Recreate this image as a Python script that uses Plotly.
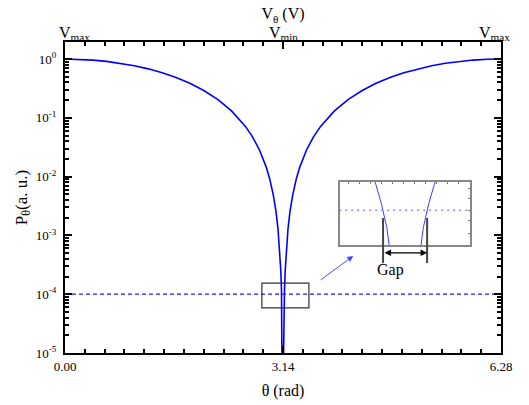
import numpy as np
import plotly.graph_objects as go

# Main curve (theta in rad, P in a.u.)
theta = [0.0, 0.2, 0.4, 0.6, 0.8, 1.0, 1.2, 1.4, 1.6, 1.8, 2.0, 2.2, 2.4, 2.6, 2.7, 2.8,
         2.9, 2.95, 3.0, 3.04, 3.07, 3.09, 3.10, 3.11, 3.12, 3.125, 3.13, 3.134, 3.137,
         3.1416,
         3.1462, 3.1492, 3.1532, 3.1582, 3.1632, 3.1732, 3.1832, 3.1932, 3.2132, 3.2432,
         3.2832, 3.3332, 3.3832, 3.4832, 3.5832, 3.6832, 3.8832, 4.0832, 4.2832, 4.4832,
         4.6832, 4.8832, 5.0832, 5.2832, 5.4832, 5.6832, 5.8832, 6.0832, 6.2832]
power = [1.0, 0.9900, 0.9605, 0.9127, 0.8484, 0.7702, 0.6812, 0.5850, 0.4854, 0.3864,
         0.2919, 0.2058, 0.1313, 0.07156, 0.04797, 0.02889, 0.01452, 0.009149, 0.005004,
         0.002579, 0.001281, 6.65e-4, 4.32e-4, 2.50e-4, 1.165e-4, 6.88e-5, 3.36e-5,
         1.44e-5, 5.27e-6,
         1e-8,
         5.27e-6, 1.44e-5, 3.36e-5, 6.88e-5, 1.165e-4, 2.50e-4, 4.32e-4, 6.65e-4,
         0.001281, 0.002579, 0.005004, 0.009149, 0.01452, 0.02889, 0.04797, 0.07156,
         0.1313, 0.2058, 0.2919, 0.3864, 0.4854, 0.5850, 0.6812, 0.7702, 0.8484, 0.9127,
         0.9605, 0.9900, 1.0]

# Zoomed region around the minimum (inset)
theta_zoom_left = [3.105, 3.110, 3.115, 3.120, 3.125, 3.130, 3.135]
power_zoom_left = [3.34e-4, 2.50e-4, 1.77e-4, 1.165e-4, 6.88e-5, 3.36e-5, 1.09e-5]
theta_zoom_right = [3.1782, 3.1732, 3.1682, 3.1632, 3.1582, 3.1532, 3.1482]
power_zoom_right = [3.34e-4, 2.50e-4, 1.77e-4, 1.165e-4, 6.88e-5, 3.36e-5, 1.09e-5]

threshold = 1e-4
gap_edges = [3.1216, 3.1616]

x_ticks = [0.0, 3.1416, 6.2832]
x_labels = ["0.00", "3.14", "6.28"]
top_labels = ["V<sub>max</sub>", "V<sub>min</sub>", "V<sub>max</sub>"]
y_exponents = [-5, -4, -3, -2, -1, 0]

FONT = "Liberation Serif, Times New Roman, serif"
BLUE = "#0000ff"

fig = go.Figure()

fig.add_trace(go.Scatter(x=theta, y=power, mode="lines",
                         line=dict(color=BLUE, width=1.6), showlegend=False))
fig.add_trace(go.Scatter(x=[x_ticks[0], x_ticks[-1]], y=[threshold, threshold], mode="lines",
                         line=dict(color="#1a1aff", width=1.2, dash="4px,3px"), showlegend=False))

# inset traces
fig.add_trace(go.Scatter(x=theta_zoom_left, y=power_zoom_left, xaxis="x3", yaxis="y3",
                         mode="lines", line=dict(color="#3a3aff", width=1), showlegend=False))
fig.add_trace(go.Scatter(x=theta_zoom_right, y=power_zoom_right, xaxis="x3", yaxis="y3",
                         mode="lines", line=dict(color="#3a3aff", width=1), showlegend=False))
fig.add_trace(go.Scatter(x=[3.0, 3.3], y=[threshold, threshold], xaxis="x3", yaxis="y3",
                         mode="lines", line=dict(color="#8a8aff", width=1.5, dash="2px,4px"),
                         showlegend=False))

minor_x = [i * np.pi / 11 for i in range(23)]
minor_y = [k * 10.0 ** e for e in range(-5, 1) for k in range(2, 10)]

# the page body has an 8px margin, so the figure is a bit smaller than the window
fig.update_layout(
    width=521, height=397,
    margin=dict(l=57, r=28, t=34, b=52, autoexpand=False),
    plot_bgcolor="white", paper_bgcolor="white",
    font=dict(family=FONT, size=13, color="black"),
    title=dict(text="V<sub>θ</sub> (V)", font=dict(size=16), x=0.5, xanchor="center",
               xref="paper", yref="container", y=1.0, yanchor="top", pad=dict(t=0, b=0)),
    xaxis=dict(
        automargin=False,
        range=[0, 2 * np.pi], tickmode="array", tickvals=x_ticks, ticktext=x_labels,
        ticks="inside", ticklen=7, tickwidth=2, tickcolor="black",
        showline=True, linecolor="black", linewidth=2, mirror="ticks",
        showgrid=False, zeroline=False,
        minor=dict(tickmode="array", tickvals=minor_x, ticks="inside", ticklen=4,
                   tickwidth=1.5, tickcolor="black", showgrid=False),
        title=dict(text="θ (rad)", font=dict(size=16), standoff=12),
        tickfont=dict(size=13),
    ),
    yaxis=dict(
        automargin=False,
        type="log", range=[-5, 0.29], tickmode="array",
        tickvals=[10.0 ** e for e in y_exponents],
        ticktext=[f"10<sup>{e}</sup>" for e in y_exponents],
        ticks="inside", ticklen=7, tickwidth=2, tickcolor="black",
        showline=True, linecolor="black", linewidth=2, mirror="ticks",
        showgrid=False, zeroline=False, ticklabelstandoff=4,
        minor=dict(tickmode="array", tickvals=minor_y, ticks="inside", ticklen=4,
                   tickwidth=1.5, tickcolor="black", showgrid=False),
        title=dict(text="P<sub>θ</sub>(a. u.)", font=dict(size=17), standoff=4),
        tickfont=dict(size=13),
    ),
    xaxis3=dict(
        automargin=False,
        domain=[0.631, 0.929], anchor="y3", side="top", range=[3.0826, 3.2006],
        showticklabels=False, ticks="inside", ticklen=2, tickcolor="#777",
        dtick=0.01, showline=True, linecolor="#888", linewidth=1.5, mirror=True,
        showgrid=False, zeroline=False,
    ),
    yaxis3=dict(
        automargin=False,
        domain=[0.347, 0.550], anchor="x3", side="right", type="log",
        range=[-4.33, -3.73], showticklabels=False, ticks="inside", ticklen=2,
        tickcolor="#777", tickmode="array", tickvals=[6e-5, 8e-5, 1e-4, 1.3e-4, 1.6e-4],
        showline=True, linecolor="#888", linewidth=1.5, mirror=True,
        showgrid=False, zeroline=False,
    ),
)

# top axis labels (voltage), kept inside the frame at the ends like the original
for xv, label, shift in zip(x_ticks, top_labels, [9, 0, -7]):
    fig.add_annotation(xref="paper", yref="paper", x=xv / x_ticks[-1], y=1.0,
                       xanchor="center", yanchor="bottom", xshift=shift, yshift=-3,
                       text=label, showarrow=False, font=dict(size=16))

# box around the minimum
fig.add_shape(type="rect", xref="x", yref="paper", x0=2.837, x1=3.515, y0=0.145, y1=0.225,
              line=dict(color="#333", width=1.2))

# gap markers in the inset
for edge in gap_edges:
    fig.add_shape(type="line", xref="x3", yref="paper", x0=edge, x1=edge, y0=0.289, y1=0.434,
                  line=dict(color="#444", width=2))

fig.add_annotation(xref="x3", yref="paper", x=gap_edges[1], y=0.322,
                   axref="x3", ayref="pixel", ax=gap_edges[0], ay=0,
                   text="", showarrow=True, arrowhead=2, arrowside="end+start",
                   arrowwidth=1.3, arrowsize=1, arrowcolor="black")
fig.add_annotation(xref="paper", yref="paper", x=0.782, y=0.302, yanchor="top", text="Gap",
                   showarrow=False, font=dict(size=16))

# arrow pointing to the inset
fig.add_annotation(xref="paper", yref="paper", x=0.661, y=0.312, ax=-34, ay=25,
                   text="", showarrow=True, arrowhead=2, arrowsize=1.2, arrowwidth=1,
                   arrowcolor="#4a4aff")

fig.write_html("out.html")
